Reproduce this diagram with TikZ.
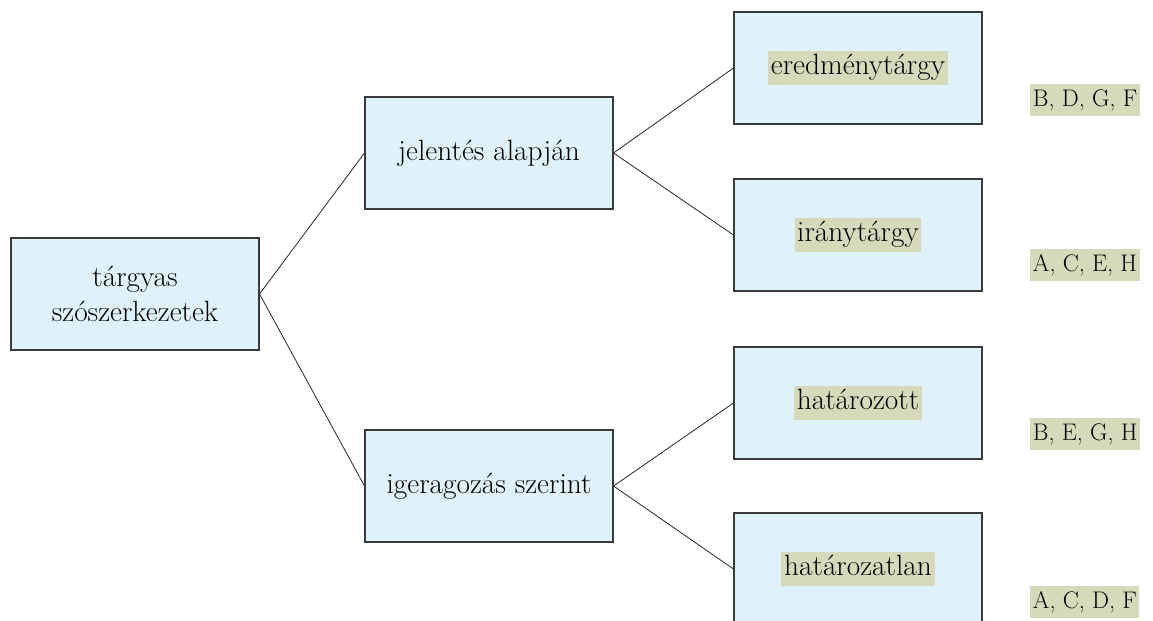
\documentclass[tikz,border=0pt]{standalone}
\usepackage{tikz}
\usetikzlibrary{positioning}
\definecolor{boxfill}{HTML}{DFF2F9}
\definecolor{hlfill}{HTML}{D6DABA}
\definecolor{boxline}{HTML}{3A3A3A}
\newcommand{\hlt}[1]{{\setlength{\fboxsep}{2pt}\colorbox{hlfill}{\rule[-0.27em]{0pt}{1.0em}#1}}}
\newcommand{\hltall}[1]{{\setlength{\fboxsep}{2pt}\colorbox{hlfill}{\rule[-0.3em]{0pt}{1.15em}#1}}}
\tikzset{
  box/.style={draw=boxline, fill=boxfill, line width=0.8pt, minimum width=186pt,
    minimum height=84pt, inner sep=0pt, align=center},
  link/.style={draw=black!85, line width=0.6pt},
  letters/.style={anchor=west, inner sep=0pt, font=\fontsize{18}{22}\selectfont},
}
\begin{document}
\begin{tikzpicture}[x=0.75pt, y=-0.75pt, font=\fontsize{22}{26}\selectfont]
        \useasboundingbox (0,0) rectangle (1153,621);
        \clip (0,0) rectangle (1153,621);
        % Boxes
        \node[box] (root) at (135,294) {tárgyas\\szószerkezetek};
        \node[box] (jel) at (489,153) {jelentés alapján};
        \node[box] (ige) at (489,486) {igeragozás szerint};
        \node[box] (ered) at (858,68) {\hlt{eredménytárgy}};
        \node[box] (irany) at (858,235) {\hlt{iránytárgy}};
        \node[box] (hat) at (858,403) {\hlt{határozott}};
        \node[box] (hatlan) at (858,569) {\hlt{határozatlan}};
        % Lines
        \draw[link] (root.east) -- (jel.west);
        \draw[link] (root.east) -- (ige.west);
        \draw[link] (jel.east) -- (ered.west);
        \draw[link] (jel.east) -- (irany.west);
        \draw[link] (ige.east) -- (hat.west);
        \draw[link] (ige.east) -- (hatlan.west);
        % Letters
        \node[letters] (l1) at (1030,100) {\hltall{B, D, G, F}};
        \node[letters] (l2) at (1030,265) {\hltall{A, C, E, H}};
        \node[letters] (l3) at (1030,434) {\hltall{B, E, G, H}};
        \node[letters] (l4) at (1030,602) {\hltall{A, C, D, F}};
    \end{tikzpicture}
\end{document}
